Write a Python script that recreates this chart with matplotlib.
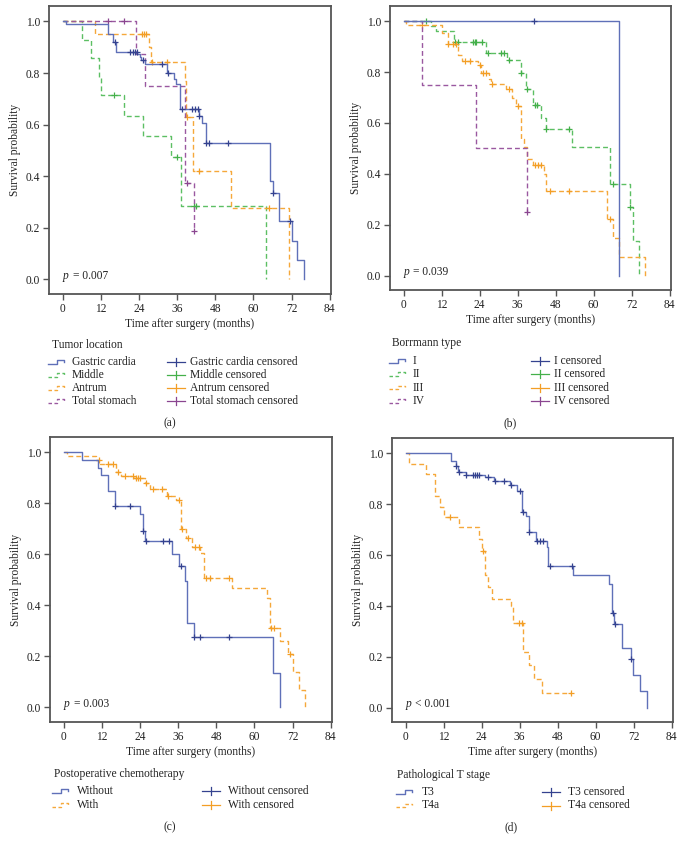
import numpy as np
import matplotlib
matplotlib.use("Agg")
import matplotlib.pyplot as plt
from matplotlib.lines import Line2D

plt.rcParams['font.family'] = ['Liberation Serif', 'DejaVu Serif']

# ---------------- data ----------------
# Panel (a) Tumor location
GC_t = [0, 1, 14.2, 15.7, 16.9, 23.5, 24.2, 24.6, 25.8, 32.9, 35.1, 35.8, 37.0, 42.9, 43.8, 45.0, 65.1, 66.1, 68.0, 72.1, 73.8, 76.0]
GC_s = [1.0, 0.99, 0.952, 0.92, 0.882, 0.872, 0.862, 0.85, 0.835, 0.80, 0.778, 0.758, 0.66, 0.634, 0.608, 0.529, 0.383, 0.335, 0.225, 0.149, 0.075, 0.0]
GC_c = [16.4, 21.3, 22.0, 22.8, 23.3, 25.2, 31.3, 33.0, 37.5, 40.7, 41.7, 42.5, 43.0, 45.2, 46.0, 52.0, 66.2, 71.6]
MID_t = [0, 6.1, 8.9, 11.3, 12.1, 19.2, 25.2, 34.1, 37.1, 64.0]
MID_s = [1.0, 0.929, 0.858, 0.786, 0.714, 0.635, 0.556, 0.476, 0.286, 0.0]
MID_c = [16.0, 36.0, 41.4, 42.0]
ANT_t = [0, 10.1, 27.1, 27.8, 38.4, 38.8, 40.9, 53.0, 71.2]
ANT_s = [1.0, 0.952, 0.90, 0.843, 0.771, 0.631, 0.421, 0.278, 0.0]
ANT_c = [25.0, 25.5, 26.2, 28.1, 32.8, 39.1, 43.0, 64.8]
TOT_t = [0, 23.2, 26.0, 38.6, 41.2]
TOT_s = [1.0, 0.875, 0.75, 0.375, 0.1875]
TOT_c = [14.2, 19.2, 39.1, 41.2]

# Panel (b) Borrmann type
I_t = [0, 68.0]
I_s = [1.0, 0.0]
I_c = [41.0]
II_t = [0, 8.7, 10.1, 15.8, 25.9, 32.6, 37.2, 38.7, 40.8, 43.3, 44.8, 53.2, 65.3, 71.4, 72.4, 74.2]
II_s = [1.0, 0.98, 0.96, 0.919, 0.875, 0.849, 0.795, 0.735, 0.67, 0.621, 0.578, 0.505, 0.36, 0.269, 0.134, 0.0]
II_c = [7.0, 16.1, 17.1, 21.9, 22.4, 22.9, 24.8, 26.6, 30.8, 31.8, 33.2, 37.2, 39.0, 41.4, 42.2, 45.0, 52.2, 66.1, 71.4]
III_t = [0, 0.8, 12.0, 14.0, 17.2, 18.5, 23.5, 24.5, 26.8, 27.7, 32.2, 34.3, 35.6, 37.2, 38.0, 39.0, 40.8, 44.2, 45.0, 64.3, 66.1, 68.0, 76.1]
III_s = [1.0, 0.985, 0.954, 0.91, 0.866, 0.845, 0.826, 0.795, 0.774, 0.755, 0.735, 0.70, 0.666, 0.535, 0.505, 0.46, 0.435, 0.40, 0.333, 0.222, 0.148, 0.074, 0.0]
III_c = [5.9, 14.0, 15.6, 16.4, 19.3, 20.8, 24.0, 25.0, 26.1, 28.0, 33.2, 36.1, 41.4, 42.4, 43.5, 46.1, 52.2, 65.3]
IV_t = [0, 5.9, 23.0, 39.0]
IV_s = [1.0, 0.75, 0.50, 0.25]
IV_c = [39.0]

# Panel (c) Postoperative chemotherapy
WO_t = [0, 5.9, 10.9, 11.8, 13.9, 16.0, 23.9, 24.8, 25.7, 34.1, 36.2, 38.1, 38.9, 40.9, 65.9, 68.0]
WO_s = [1.0, 0.97, 0.94, 0.91, 0.849, 0.789, 0.757, 0.69, 0.654, 0.602, 0.555, 0.497, 0.332, 0.278, 0.137, 0.0]
WO_c = [16.1, 21.0, 25.0, 26.0, 31.1, 33.2, 37.0, 41.0, 43.0, 52.0]
W_t = [0, 1.0, 10.3, 11.3, 16.6, 18.1, 22.0, 25.6, 27.3, 32.6, 35.4, 37.0, 38.6, 40.5, 42.8, 44.0, 53.0, 63.8, 64.8, 68.0, 70.7, 72.0, 74.0, 75.8]
W_s = [1.0, 0.987, 0.97, 0.955, 0.923, 0.907, 0.898, 0.881, 0.856, 0.828, 0.812, 0.70, 0.666, 0.628, 0.604, 0.508, 0.469, 0.428, 0.311, 0.26, 0.209, 0.14, 0.069, 0.0]
W_c = [11.0, 14.0, 15.6, 17.1, 19.2, 21.8, 22.9, 23.4, 23.9, 26.0, 28.1, 31.0, 32.9, 36.2, 37.3, 39.1, 41.2, 42.5, 44.7, 46.0, 52.0, 65.3, 66.1, 71.1]

# Panel (d) Pathological T stage
T3_t = [0, 14.2, 15.9, 16.6, 19.1, 25.2, 27.9, 32.9, 35.1, 36.6, 38.0, 39.0, 41.0, 44.5, 45.1, 52.9, 64.1, 65.0, 65.9, 68.2, 71.2, 71.9, 74.0, 76.1]
T3_s = [1.0, 0.97, 0.948, 0.927, 0.916, 0.906, 0.89, 0.877, 0.85, 0.77, 0.753, 0.69, 0.654, 0.63, 0.557, 0.522, 0.484, 0.372, 0.33, 0.236, 0.19, 0.127, 0.064, 0.0]
T3_c = [16.0, 17.0, 19.2, 21.2, 21.8, 22.4, 23.1, 25.9, 28.2, 31.2, 33.2, 36.1, 37.2, 39.1, 41.4, 42.4, 43.5, 45.6, 52.4, 65.4, 66.0, 71.3]
T4_t = [0, 1.0, 6.3, 9.3, 10.8, 12.1, 16.9, 23.3, 24.0, 25.0, 26.1, 27.2, 33.3, 34.0, 37.2, 39.0, 40.6, 43.2]
T4_s = [1.0, 0.957, 0.918, 0.83, 0.787, 0.75, 0.708, 0.663, 0.615, 0.522, 0.474, 0.428, 0.40, 0.333, 0.22, 0.166, 0.111, 0.056]
T4_c = [14.0, 24.3, 35.9, 36.6, 52.1]

x_ticks = [0, 12, 24, 36, 48, 60, 72, 84]
y_ticks = [0.0, 0.2, 0.4, 0.6, 0.8, 1.0]

# ---------------- styles ----------------
BLUE = '#5f70b8'; BLUE_C = '#34428f'
GREEN = '#5cbf63'; GREEN_C = '#44b04a'
ORANGE = '#f5a83a'; ORANGE_C = '#f39e25'
PURPLE = '#9a58a0'; PURPLE_C = '#8a4590'
DASH = (0, (3.5, 2.2))
FS = 8.3
TXT = '#222222'

W, H = 683, 849
fig = plt.figure(figsize=(W / 100, H / 100), dpi=100)


def fx(px):
    return px / W


def fy(py):
    return 1 - py / H


def make_ax(left, top, right, bottom):
    ax = fig.add_axes([fx(left), fy(bottom), (right - left) / W, (bottom - top) / H])
    ax.set_xlim(-4.3, 84.4)
    ax.set_ylim(-0.057, 1.06)
    ax.set_xticks(x_ticks)
    ax.set_yticks(y_ticks)
    ax.set_yticklabels([f"{v:.1f}" for v in y_ticks])
    for s in ax.spines.values():
        s.set_color('#555555')
        s.set_linewidth(1.3)
    ax.tick_params(direction='out', length=4, width=1, color='#555555',
                   labelsize=FS, labelcolor=TXT, pad=2.5)
    ax.set_xlabel('Time after surgery (months)', fontsize=FS, labelpad=2, color=TXT)
    ax.set_ylabel('Survival probability', fontsize=FS, labelpad=3, color=TXT)
    return ax


def km(ax, t, s, c, color, ccolor, ls):
    t = list(t); s = list(s)
    if c and max(c) > t[-1]:
        t.append(max(c)); s.append(s[-1])
    ax.step(t, s, where='post', color=color, lw=1.0, ls=ls)
    idx = np.searchsorted(np.array(t), np.array(c), side='right') - 1
    cy = np.array(s)[idx]
    ax.plot(c, cy, ls='none', marker='+', ms=5, mew=0.9, color=ccolor)


def pval(ax, txt):
    ax.text(0, 0.012, 'p', fontsize=FS, style='italic',
            ha='left', va='center', color=TXT)
    ax.text(3.1, 0.012, txt, fontsize=FS, ha='left', va='center', color=TXT)


def step_handle(x, y, color, ls):
    xs = [x, x + 9, x + 9, x + 16, x + 16]
    ys = [y + 1.8, y + 1.8, y - 2.0, y - 2.0, y - 0.2]
    fig.add_artist(Line2D([fx(v) for v in xs], [fy(v) for v in ys],
                          transform=fig.transFigure, color=color, lw=1.0,
                          ls=(0, (2.5, 1.8)) if ls != '-' else '-'))


def cens_handle(x, y, color):
    fig.add_artist(Line2D([fx(x), fx(x + 18)], [fy(y), fy(y)],
                          transform=fig.transFigure, color=color, lw=0.9))
    fig.add_artist(Line2D([fx(x + 9), fx(x + 9)], [fy(y - 4), fy(y + 4)],
                          transform=fig.transFigure, color=color, lw=0.9))


def legend(title, tx, ty, rows, lx, ltx, rx, rtx, y0, dy):
    fig.text(fx(tx), fy(ty), title, fontsize=FS, ha='left', va='center', color=TXT)
    for i, (name, color, ccolor, ls) in enumerate(rows):
        y = y0 + i * dy
        step_handle(lx, y, color, ls)
        fig.text(fx(ltx), fy(y), name, fontsize=FS, ha='left', va='center', color=TXT)
        cens_handle(rx, y, ccolor)
        fig.text(fx(rtx), fy(y), name + ' censored', fontsize=FS, ha='left', va='center', color=TXT)


# ---------------- panel (a) ----------------
axa = make_ax(49, 6, 331, 294)
km(axa, MID_t, MID_s, MID_c, GREEN, GREEN_C, DASH)
km(axa, ANT_t, ANT_s, ANT_c, ORANGE, ORANGE_C, DASH)
km(axa, TOT_t, TOT_s, TOT_c, PURPLE, PURPLE_C, DASH)
km(axa, GC_t, GC_s, GC_c, BLUE, BLUE_C, '-')
pval(axa, '= 0.007')
legend('Tumor location', 52, 345,
       [('Gastric cardia', BLUE, BLUE_C, '-'), ('Middle', GREEN, GREEN_C, DASH),
        ('Antrum', ORANGE, ORANGE_C, DASH), ('Total stomach', PURPLE, PURPLE_C, DASH)],
       48, 72, 167, 190, 362, 13)
fig.text(fx(170), fy(423), '(a)', fontsize=FS, ha='center', va='center', color=TXT)

# ---------------- panel (b) ----------------
axb = make_ax(390, 6, 671, 290)
km(axb, II_t, II_s, II_c, GREEN, GREEN_C, DASH)
km(axb, III_t, III_s, III_c, ORANGE, ORANGE_C, DASH)
km(axb, IV_t, IV_s, IV_c, PURPLE, PURPLE_C, DASH)
km(axb, I_t, I_s, I_c, BLUE, BLUE_C, '-')
pval(axb, '= 0.039')
legend('Borrmann type', 392, 343,
       [('I', BLUE, BLUE_C, '-'), ('II', GREEN, GREEN_C, DASH),
        ('III', ORANGE, ORANGE_C, DASH), ('IV', PURPLE, PURPLE_C, DASH)],
       389, 413, 531, 554, 361, 13.3)
fig.text(fx(510), fy(423), '(b)', fontsize=FS, ha='center', va='center', color=TXT)

# ---------------- panel (c) ----------------
axc = make_ax(50, 437, 332, 722)
km(axc, W_t, W_s, W_c, ORANGE, ORANGE_C, DASH)
km(axc, WO_t, WO_s, WO_c, BLUE, BLUE_C, '-')
pval(axc, '= 0.003')
legend('Postoperative chemotherapy', 54, 774,
       [('Without', BLUE, BLUE_C, '-'), ('With', ORANGE, ORANGE_C, DASH)],
       52, 77, 202, 228, 791, 14)
fig.text(fx(170), fy(827), '(c)', fontsize=FS, ha='center', va='center', color=TXT)

# ---------------- panel (d) ----------------
axd = make_ax(392, 438, 673, 722)
km(axd, T4_t, T4_s, T4_c, ORANGE, ORANGE_C, DASH)
km(axd, T3_t, T3_s, T3_c, BLUE, BLUE_C, '-')
pval(axd, '< 0.001')
legend('Pathological T stage', 397, 775,
       [('T3', BLUE, BLUE_C, '-'), ('T4a', ORANGE, ORANGE_C, DASH)],
       396, 422, 542, 568, 792, 13.5)
fig.text(fx(511), fy(827), '(d)', fontsize=FS, ha='center', va='center', color=TXT)

fig.savefig('out.png', dpi=100)
